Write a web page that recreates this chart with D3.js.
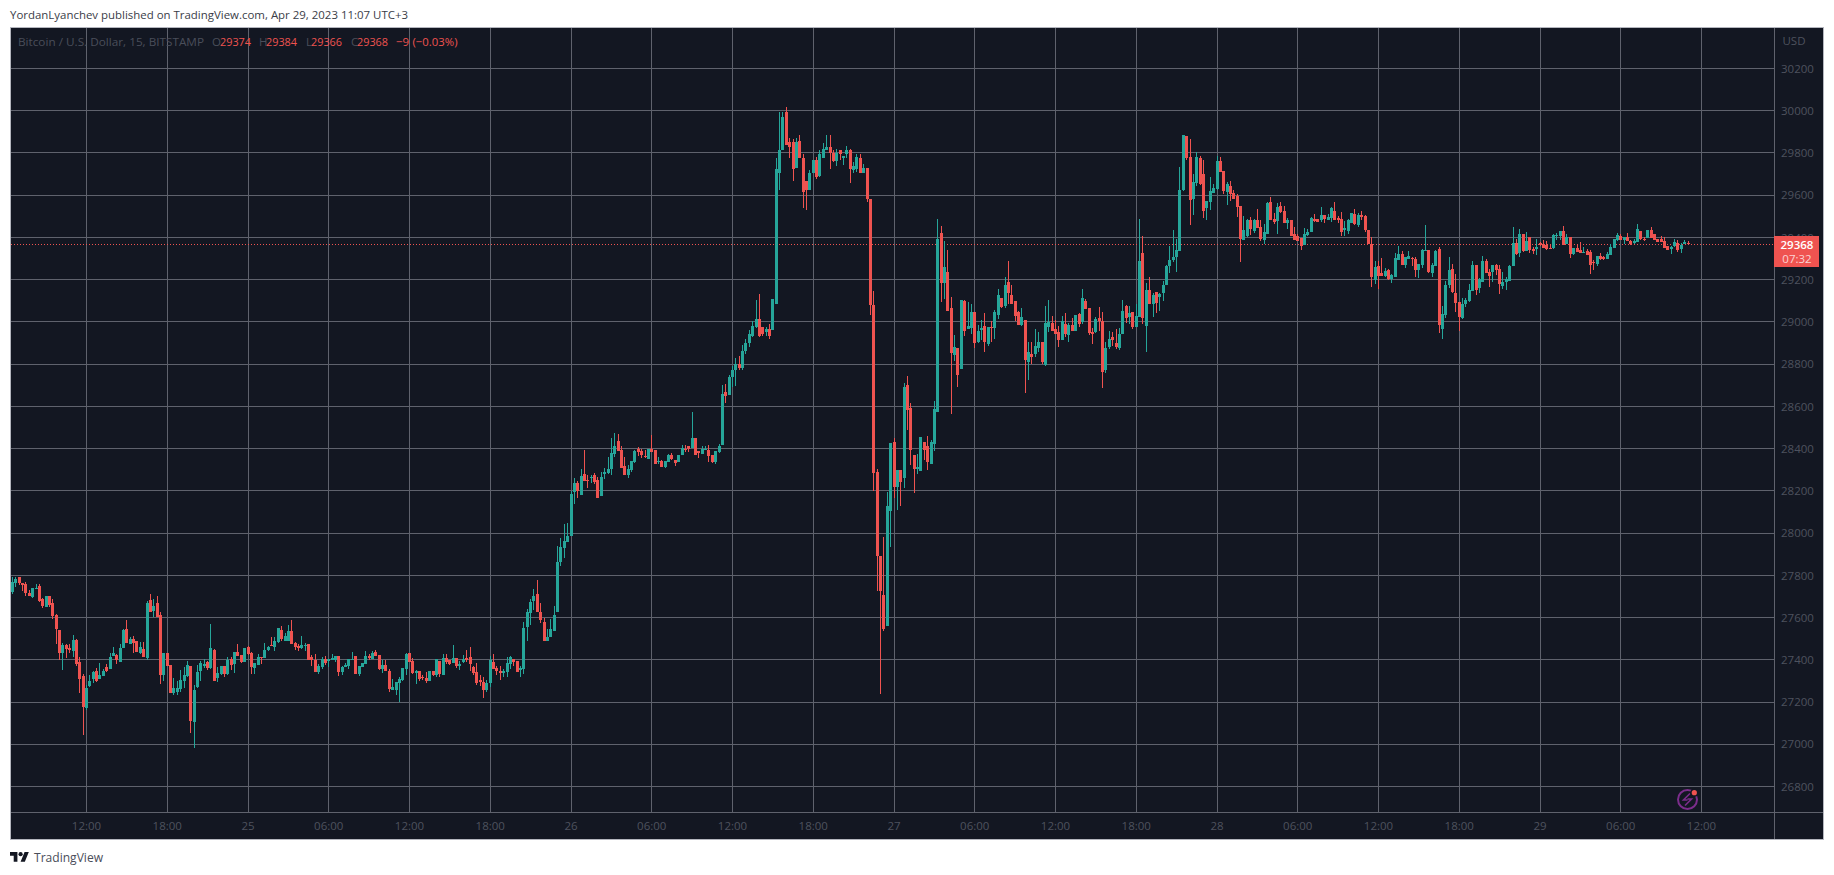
<!DOCTYPE html>
<html>
<head>
<meta charset="utf-8">
<title>BTCUSD 15</title>
<script src="https://cdn.jsdelivr.net/npm/d3@7"></script>
<style>
  html, body { margin: 0; padding: 0; background: #fff; }
  svg { display: block; font-family: "Open Sans", "Noto Sans", sans-serif; }
</style>
</head>
<body>
<svg id="chart" width="1834" height="875"></svg>
<script>
// open, high, low, close of each 15 minute candle, one list per session
const apr24 = [
[27723,27792,27713,27770],[27764,27792,27745,27783],[27792,27792,27754,27764],[27764,27764,27726,27754],[27759,27768,27704,27716],
[27716,27730,27702,27704],[27697,27740,27693,27740],[27735,27759,27735,27740],[27749,27759,27674,27678],[27688,27693,27645,27655],
[27650,27702,27650,27702],[27702,27702,27650,27659],[27669,27688,27593,27607],[27612,27617,27475,27546],[27541,27541,27399,27432],
[27432,27479,27351,27470],[27470,27475,27408,27451],[27456,27475,27432,27446],[27441,27517,27413,27493],[27493,27498,27370,27380],
[27389,27413,27242,27309],[27323,27332,27043,27176],[27171,27280,27162,27266],[27275,27328,27271,27299],[27309,27347,27290,27342],
[27347,27361,27294,27299],[27309,27384,27309,27328],[27323,27356,27323,27347],[27365,27380,27342,27347],[27356,27432,27356,27413],
[27418,27460,27418,27432],[27422,27427,27380,27399],[27389,27475,27389,27456],[27456,27546,27456,27541],[27546,27588,27479,27479],
[27475,27508,27475,27498],[27498,27512,27432,27479],[27489,27489,27437,27437],[27432,27484,27427,27460],[27451,27484,27413,27413],
[27408,27678,27399,27669],[27683,27712,27626,27626],[27631,27688,27603,27655],[27669,27702,27601,27601],[27612,27626,27285,27328],
[27328,27432,27299,27432],[27432,27432,27370,27370],[27375,27375,27242,27242],[27242,27313,27233,27266],[27247,27299,27233,27266],
[27261,27351,27247,27304],[27299,27365,27266,27328],[27323,27394,27318,27375],[27370,27370,27053,27110],[27105,27280,26982,27256],
[27271,27375,27266,27342],[27347,27394,27299,27384],[27370,27403,27361,27380],[27389,27394,27351,27361],[27361,27569,27356,27456],
[27446,27451,27299,27299],[27313,27365,27294,27337],[27332,27370,27328,27370],[27370,27370,27318,27332],[27332,27413,27328,27399],
[27403,27413,27351,27375],[27380,27437,27337,27437],[27437,27475,27418,27418],[27422,27422,27385,27389],[27389,27456,27389,27456]
];
const apr25 = [
[27460,27465,27422,27427],[27432,27437,27332,27365],[27361,27384,27332,27384],[27375,27427,27375,27413],[27413,27413,27380,27408],
[27408,27479,27408,27446],[27446,27465,27441,27460],[27468,27508,27465,27465],[27460,27508,27441,27489],[27484,27550,27479,27550],
[27541,27560,27489,27498],[27489,27527,27489,27512],[27489,27565,27489,27536],[27536,27588,27475,27475],[27479,27484,27446,27460],
[27465,27475,27441,27456],[27456,27512,27451,27470],[27465,27479,27441,27470],[27475,27475,27399,27399],[27413,27422,27370,27399],
[27399,27427,27342,27342],[27342,27380,27332,27370],[27365,27413,27356,27403],[27403,27418,27375,27384],[27394,27403,27365,27403],
[27399,27427,27399,27408],[27399,27418,27389,27418],[27418,27418,27323,27342],[27342,27370,27328,27365],[27365,27384,27365,27375],
[27370,27403,27356,27403],[27399,27437,27399,27403],[27418,27418,27332,27332],[27332,27370,27323,27370],[27365,27384,27365,27384],
[27380,27441,27380,27418],[27418,27427,27399,27408],[27403,27441,27403,27432],[27437,27446,27418,27418],[27422,27422,27351,27356],
[27356,27399,27337,27375],[27375,27399,27347,27347],[27347,27356,27247,27261],[27256,27309,27256,27271],[27256,27294,27233,27294],
[27290,27318,27198,27309],[27304,27361,27299,27361],[27356,27432,27328,27427],[27432,27432,27389,27389],[27394,27408,27332,27337],
[27337,27351,27285,27347],[27347,27347,27299,27309],[27318,27328,27304,27313],[27313,27342,27290,27299],[27299,27347,27299,27347],
[27347,27347,27323,27328],[27328,27403,27318,27403],[27394,27394,27318,27332],[27328,27427,27328,27408],[27408,27427,27380,27389],
[27399,27399,27375,27380],[27384,27470,27384,27408],[27408,27408,27361,27370],[27370,27394,27351,27380],[27389,27422,27384,27403],
[27408,27446,27389,27399],[27413,27460,27347,27380],[27365,27370,27328,27337],[27342,27384,27280,27290],[27304,27328,27275,27294],
[27294,27318,27219,27256],[27256,27304,27247,27290],[27290,27418,27271,27399],[27389,27427,27356,27356],[27361,27370,27328,27347],
[27347,27370,27304,27337],[27337,27356,27318,27347],[27342,27413,27318,27384],[27380,27418,27356,27413],[27403,27403,27370,27389],
[27394,27394,27342,27342],[27351,27370,27318,27361],[27356,27579,27332,27550],[27555,27640,27489,27626],[27621,27688,27565,27674],
[27678,27735,27636,27702],[27712,27778,27626,27626],[27626,27669,27574,27588],[27579,27598,27489,27489],[27489,27546,27489,27508],
[27508,27593,27508,27546],[27536,27655,27536,27612],[27626,27938,27626,27863],[27862,27976,27843,27933],[27929,28042,27881,27962],
[27957,28047,27957,27986]
];
const apr26 = [
[27986,28199,27986,28185],[28194,28260,28137,28237],[28237,28246,28166,28199],[28180,28303,28180,28270],[28279,28393,28246,28246],
[28251,28275,28213,28246],[28260,28275,28237,28265],[28275,28284,28232,28242],[28251,28265,28166,28166],[28175,28289,28175,28265],
[28279,28308,28256,28289],[28284,28360,28279,28303],[28303,28450,28275,28379],[28374,28474,28360,28412],[28436,28469,28388,28388],
[28393,28412,28308,28308],[28317,28360,28275,28275],[28275,28322,28260,28303],[28298,28341,28289,28341],[28336,28393,28332,28388],
[28398,28407,28365,28384],[28388,28398,28355,28370],[28365,28393,28355,28360],[28351,28398,28351,28398],[28398,28464,28384,28384],
[28393,28393,28327,28327],[28336,28360,28327,28341],[28341,28346,28313,28313],[28313,28341,28308,28341],[28336,28374,28336,28370],
[28370,28379,28346,28351],[28346,28346,28317,28332],[28336,28370,28336,28370],[28370,28417,28370,28403],[28398,28417,28384,28393],
[28412,28412,28384,28398],[28403,28573,28403,28450],[28450,28450,28370,28370],[28388,28388,28355,28379],[28374,28412,28374,28398],
[28393,28412,28393,28398],[28393,28417,28336,28365],[28370,28370,28332,28336],[28336,28388,28327,28388],[28384,28422,28379,28412],
[28417,28700,28417,28659],[28668,28706,28616,28649],[28654,28750,28654,28740],[28740,28790,28692,28770],[28770,28830,28697,28800],
[28800,28840,28770,28780],[28780,28890,28770,28860],[28860,28920,28850,28900],[28900,28960,28880,28945],[28935,29006,28927,28982],
[28977,29105,28973,29015],[29015,29132,28927,28935],[28974,28977,28935,28943],[28950,28977,28935,28968],[28968,28992,28919,28935],
[28963,29110,28963,29110],[29086,29774,29086,29726],[29703,29996,29627,29812],[29812,29996,29812,29968],[29996,30020,29840,29840],
[29854,29873,29778,29826],[29850,29868,29669,29726],[29731,29873,29731,29850],[29859,29883,29774,29778],[29778,29797,29541,29617],
[29665,29669,29532,29627],[29627,29717,29627,29707],[29707,29769,29703,29769],[29769,29783,29679,29688],[29693,29816,29688,29793],
[29774,29845,29774,29821],[29816,29887,29816,29826],[29826,29887,29726,29802],[29802,29816,29755,29764],[29764,29821,29740,29802],
[29812,29816,29769,29793],[29778,29788,29745,29788],[29797,29835,29778,29816],[29816,29821,29660,29722],[29717,29759,29707,29740],
[29726,29797,29712,29783],[29778,29793,29707,29707],[29707,29750,29707,29731],[29731,29731,29570,29584],[29584,29584,29034,29082],
[29079,29146,28198,28283],[28288,28302,27724,27890],[27890,27890,27240,27728],[27709,27980,27534,27544],[27558,28193,27558,28127],
[28103,28425,27932,28425]
];
const apr27 = [
[28430,28449,28164,28217],[28217,28297,28108,28297],[28297,28297,28127,28240],[28259,28710,28212,28691],[28700,28743,28487,28582],
[28591,28615,28321,28392],[28368,28368,28188,28302],[28302,28373,28278,28311],[28292,28454,28292,28454],[28430,28430,28345,28392],
[28411,28458,28297,28335],[28326,28439,28326,28430],[28420,28624,28387,28586],[28572,29487,28572,29392],[29421,29454,29094,29184],
[29184,29383,29108,29259],[29236,29340,29051,29051],[29065,29117,28563,28852],[28842,28937,28814,28880],[28875,28875,28691,28747],
[28776,29103,28776,29103],[29098,29103,28932,28956],[28966,29094,28966,28980],[28970,29084,28942,29046],[29046,29046,28875,28899],
[28904,28985,28899,28956],[28961,29008,28913,28970],[28980,29041,28857,28904],[28894,28975,28885,28975],[28975,29003,28904,28970],
[28970,29056,28918,29046],[29032,29155,29013,29127],[29112,29112,29065,29070],[29075,29212,29065,29174],[29188,29288,29084,29136],
[29127,29174,29084,29084],[29098,29098,29003,29027],[29046,29051,28985,28985],[28985,29065,28980,29022],[29008,29008,28662,28819],
[28809,28904,28724,28857],[28847,28904,28800,28833],[28847,28966,28833,28885],[28875,28951,28857,28904],[28904,28904,28800,28809],
[28795,29075,28790,28994],[28975,29103,28951,28999],[28994,29027,28956,28956],[28966,29008,28942,28942],[28951,28980,28880,28913],
[28913,29027,28913,29003],[28989,29041,28928,28942],[28937,28994,28904,28985],[28985,29018,28956,28956],[28956,29032,28956,29032],
[29037,29041,28975,28989],[28999,29155,28989,29112],[29098,29108,29060,29060],[29065,29065,28937,28947],[28951,28970,28894,28942],
[28951,29022,28947,29013],[29018,29070,28956,29003],[29003,29046,28686,28762],[28771,28904,28757,28875],[28880,28956,28871,28918],
[28928,28951,28885,28913],[28899,28966,28871,28880],[28875,28970,28866,28942],[28942,29103,28942,29051],[29075,29079,28994,29018],
[29022,29075,28989,29041],[29046,29046,28966,28975],[28975,29084,28975,29027],[29022,29487,29022,29288],[29326,29406,28989,29018],
[28980,29184,28857,29150],[29150,29212,29084,29084],[29086,29138,29024,29128],[29142,29142,29043,29090],[29119,29138,29052,29133],
[29138,29195,29100,29176],[29176,29270,29176,29266],[29266,29360,29233,29294],[29294,29436,29285,29308],[29308,29394,29237,29342],
[29337,29735,29337,29626],[29626,29887,29621,29887],[29882,29882,29768,29778],[29782,29868,29460,29579],[29583,29702,29507,29664],
[29659,29806,29645,29782],[29778,29787,29650,29654],[29702,29768,29493,29526],[29541,29574,29484,29574],[29569,29688,29531,29621],
[29612,29654,29612,29635]
];
const apr28 = [
[29631,29787,29626,29763],[29763,29782,29711,29711],[29716,29716,29607,29621],[29616,29664,29555,29654],[29645,29669,29574,29607],
[29612,29626,29583,29583],[29597,29607,29498,29545],[29550,29550,29285,29394],[29389,29503,29389,29436],[29408,29488,29403,29484],
[29484,29498,29413,29441],[29432,29488,29422,29484],[29484,29536,29446,29446],[29451,29484,29384,29394],[29389,29465,29370,29427],
[29417,29569,29417,29564],[29569,29593,29484,29484],[29488,29517,29465,29474],[29479,29564,29417,29545],[29550,29569,29517,29522],
[29526,29550,29470,29470],[29470,29493,29441,29484],[29484,29484,29408,29408],[29417,29451,29389,29389],[29408,29417,29384,29384],
[29398,29398,29341,29360],[29365,29446,29365,29417],[29413,29441,29408,29427],[29427,29498,29427,29493],[29488,29512,29474,29479],
[29488,29488,29474,29474],[29484,29545,29474,29507],[29507,29507,29470,29488],[29484,29512,29484,29498],[29493,29545,29474,29541],
[29526,29569,29484,29484],[29493,29503,29470,29484],[29488,29522,29408,29427],[29436,29479,29408,29446],[29432,29488,29417,29484],
[29470,29517,29470,29517],[29512,29536,29460,29465],[29460,29517,29451,29507],[29507,29526,29484,29498],[29503,29507,29427,29436],
[29436,29436,29370,29370],[29370,29403,29166,29214],[29199,29289,29180,29261],[29266,29289,29157,29218],[29233,29304,29218,29218],
[29218,29256,29214,29242],[29247,29251,29199,29204],[29204,29228,29185,29223],[29214,29327,29214,29304],[29294,29360,29294,29323],
[29323,29337,29270,29270],[29270,29308,29256,29308],[29299,29337,29299,29313],[29304,29308,29266,29299],[29299,29308,29214,29247],
[29247,29275,29209,29275],[29270,29346,29256,29341],[29337,29460,29337,29341],[29341,29341,29233,29237],[29233,29280,29214,29270],
[29266,29341,29266,29337],[29346,29356,28948,28986],[28967,29076,28920,29038],[29033,29195,29019,29176],[29176,29308,29161,29247],
[29251,29275,29138,29142],[29138,29228,29048,29090],[29095,29095,28958,29024],[29019,29114,29014,29086],[29086,29114,29071,29104],
[29100,29180,29095,29152],[29146,29288,29146,29269],[29269,29269,29127,29151],[29160,29208,29137,29203],[29189,29312,29189,29288],
[29288,29298,29232,29232],[29236,29251,29165,29217],[29236,29269,29189,29269],[29269,29274,29222,29246],[29251,29269,29132,29179],
[29170,29236,29156,29189],[29189,29213,29151,29203],[29194,29269,29194,29265],[29265,29450,29265,29374],[29374,29393,29317,29322],
[29326,29440,29307,29416],[29416,29416,29331,29336],[29336,29426,29336,29383],[29401,29401,29326,29341],[29345,29353,29322,29336],
[29345,29391,29317,29355]
];
const apr29 = [
[29374,29379,29360,29364],[29369,29388,29350,29350],[29364,29383,29341,29345],[29350,29369,29345,29345],[29350,29416,29345,29412],
[29407,29421,29388,29412],[29407,29431,29388,29431],[29431,29454,29364,29364],[29369,29416,29369,29401],[29401,29401,29303,29322],
[29322,29350,29317,29350],[29350,29369,29331,29331],[29341,29379,29326,29326],[29326,29355,29326,29330],[29336,29345,29317,29317],
[29331,29341,29227,29269],[29284,29293,29246,29279],[29274,29312,29265,29312],[29312,29326,29293,29298],[29307,29312,29293,29298],
[29298,29331,29298,29322],[29317,29369,29317,29355],[29350,29393,29350,29393],[29388,29421,29383,29412],[29407,29416,29388,29388],
[29388,29401,29369,29401],[29401,29421,29383,29383],[29383,29388,29364,29369],[29374,29393,29369,29383],[29379,29464,29379,29440],
[29431,29431,29388,29393],[29393,29401,29383,29388],[29397,29435,29397,29435],[29435,29450,29397,29397],[29416,29416,29388,29388],
[29393,29393,29379,29379],[29393,29407,29379,29379],[29383,29401,29350,29350],[29360,29360,29341,29341],[29345,29360,29322,29355],
[29360,29391,29355,29379],[29374,29388,29331,29341],[29345,29374,29326,29364],[29369,29388,29369,29379],[29374,29384,29366,29368]
];

const priceTicks = [26800, 27000, 27200, 27400, 27600, 27800, 28000, 28200, 28400, 28600, 28800, 29000, 29200, 29400, 29600, 29800, 30000, 30200];
const timeLabels = ['12:00', '18:00', '25', '06:00', '12:00', '18:00', '26', '06:00', '12:00', '18:00', '27', '06:00', '12:00', '18:00', '28', '06:00', '12:00', '18:00', '29', '06:00', '12:00'];
const publishedLine = 'YordanLyanchev published on TradingView.com, Apr 29, 2023 11:07 UTC+3';
const symbolName = 'Bitcoin / U.S. Dollar, 15, BITSTAMP';
const ohlcNames = ['O', 'H', 'L', 'C'];
const ohlcValues = ['29374', '29384', '29366', '29368'];
const lastPrice = 29368;
const countdown = '07:32';

const candles = [...apr24, ...apr25, ...apr26, ...apr27, ...apr28, ...apr29]
    .map(d => ({ open: d[0], high: d[1], low: d[2], close: d[3] }));

const GREEN = '#26a69a', RED = '#ef5350', BG = '#131722', GRID = '#5f626d', AXIS_TEXT = '#4e525e';
const left = 10, top_ = 27, plotRight = 1774, plotBottom = 812, right = 1823, bottom = 839;
const firstLabelBar = 22, barsPerLabel = 24; // a time label every 6 hours
const FONT = 11.5;

const svg = d3.select('#chart');

const x = d3.scaleLinear()
    .domain([firstLabelBar, firstLabelBar + barsPerLabel * (timeLabels.length - 1)])
    .range([86.5, 1701.5]);
const y = d3.scaleLinear().domain([26800, 30200]).range([786.5, 68.5]);

// panel and frame
svg.append('rect')
    .attr('x', left + 0.5).attr('y', top_ + 0.5)
    .attr('width', right - left).attr('height', bottom - top_)
    .attr('fill', BG).attr('stroke', '#b4b6be').attr('stroke-width', 1);

const grid = svg.append('g').attr('shape-rendering', 'crispEdges').attr('stroke', GRID);

grid.selectAll('.h').data(priceTicks).enter().append('line')
    .attr('x1', left + 1).attr('x2', plotRight)
    .attr('y1', d => y(d)).attr('y2', d => y(d));

grid.selectAll('.v').data(timeLabels).enter().append('line')
    .attr('x1', (d, i) => x(firstLabelBar + i * barsPerLabel)).attr('x2', (d, i) => x(firstLabelBar + i * barsPerLabel))
    .attr('y1', top_ + 1).attr('y2', plotBottom);

grid.append('line').attr('x1', plotRight + 0.5).attr('x2', plotRight + 0.5).attr('y1', top_ + 1).attr('y2', bottom);
grid.append('line').attr('x1', left + 1).attr('x2', right).attr('y1', plotBottom + 0.5).attr('y2', plotBottom + 0.5);

// legend sits under the marks, the grid shows through it
const legend = svg.append('g').attr('font-size', FONT);
legend.append('text').attr('x', 18).attr('y', 46).attr('fill', '#4a4e5a')
    .attr('textLength', 186).attr('lengthAdjust', 'spacingAndGlyphs').text(symbolName);
const legendX = [212, 259, 306, 351];
const legendValueX = [220, 266, 311, 357];
ohlcNames.forEach((n, i) => {
    legend.append('text').attr('x', legendX[i]).attr('y', 46).attr('fill', '#4a4e5a').text(n);
    legend.append('text').attr('x', legendValueX[i]).attr('y', 46).attr('fill', RED)
        .attr('textLength', 31).attr('lengthAdjust', 'spacingAndGlyphs').text(ohlcValues[i]);
});
legend.append('text').attr('x', 396).attr('y', 46).attr('fill', RED).text('\u22129');
legend.append('text').attr('x', 412.5).attr('y', 46).attr('fill', RED)
    .attr('textLength', 45).attr('lengthAdjust', 'spacingAndGlyphs').text('(\u22120.03%)');

// price line
svg.append('line')
    .attr('x1', left + 1).attr('x2', plotRight)
    .attr('y1', Math.floor(y(lastPrice)) + 0.5).attr('y2', Math.floor(y(lastPrice)) + 0.5)
    .attr('stroke', RED).attr('stroke-dasharray', '1 2').attr('shape-rendering', 'crispEdges');

// candles
const marks = svg.append('g').attr('shape-rendering', 'crispEdges');
const candle = marks.selectAll('g').data(candles).enter().append('g')
    .attr('fill', d => d.close >= d.open ? GREEN : RED);

candle.append('rect')
    .attr('x', (d, i) => Math.floor(x(i)))
    .attr('width', 1)
    .attr('y', d => Math.round(y(d.high)))
    .attr('height', d => Math.max(1, Math.round(y(d.low)) - Math.round(y(d.high))));

candle.append('rect')
    .attr('x', (d, i) => Math.floor(x(i)) - 1)
    .attr('width', 3)
    .attr('y', d => Math.round(y(Math.max(d.open, d.close))))
    .attr('height', d => Math.max(1, Math.round(y(Math.min(d.open, d.close))) - Math.round(y(Math.max(d.open, d.close)))));

// price axis
const priceAxis = svg.append('g').attr('font-size', FONT).attr('fill', AXIS_TEXT).attr('text-anchor', 'middle');
priceAxis.selectAll('text').data(priceTicks).enter().append('text')
    .attr('x', 1797.5).attr('y', d => y(d) + 4.2).text(d => d);
priceAxis.append('text').attr('x', 1794).attr('y', 45).text('USD');

// last price tag
const tag = svg.append('g').attr('text-anchor', 'middle').attr('font-size', FONT);
tag.append('rect').attr('x', plotRight).attr('y', 236).attr('width', 45).attr('height', 31).attr('fill', RED);
tag.append('text').attr('x', 1797).attr('y', Math.floor(y(lastPrice)) + 5).attr('fill', '#fff').attr('font-weight', 600).text(lastPrice);
tag.append('text').attr('x', 1797).attr('y', 262.5).attr('fill', '#fff').attr('fill-opacity', 0.75).text(countdown);

// time axis
svg.append('g').attr('font-size', FONT).attr('fill', AXIS_TEXT).attr('text-anchor', 'middle')
    .selectAll('text').data(timeLabels).enter().append('text')
    .attr('x', (d, i) => x(firstLabelBar + i * barsPerLabel))
    .attr('y', 830)
    .text(d => d);

// lightning badge
const badge = svg.append('g').attr('transform', 'translate(1687.5,799.5)');
badge.append('circle').attr('r', 9.5).attr('fill', 'none').attr('stroke', '#7b2d8b').attr('stroke-width', 2);
badge.append('path').attr('d', 'M2.5,-6 L-4,0.5 L0,0.5 M-2.5,6 L4,-0.5 L0,-0.5').attr('fill', 'none').attr('stroke', '#7b2d8b').attr('stroke-width', 1.6);
badge.append('circle').attr('cx', 6.8).attr('cy', -6.8).attr('r', 4).attr('fill', BG);
badge.append('circle').attr('cx', 6.8).attr('cy', -6.8).attr('r', 2.6).attr('fill', RED);

// page texts outside the panel
svg.append('text').attr('x', 10).attr('y', 19).attr('font-size', FONT).attr('fill', '#3a3d48')
    .attr('textLength', 398).attr('lengthAdjust', 'spacingAndGlyphs').text(publishedLine);

const logo = svg.append('g').attr('transform', 'translate(10,850) scale(0.53)').attr('fill', '#131722');
logo.append('path').attr('d', 'M14 22H7V11H0V4h14v18zM28 22h-8l7.5-18h8L28 22z');
logo.append('circle').attr('cx', 20).attr('cy', 8).attr('r', 4);
svg.append('text').attr('x', 34).attr('y', 862).attr('font-size', 13).attr('fill', '#4a4e5a')
    .attr('textLength', 69).attr('lengthAdjust', 'spacingAndGlyphs').text('TradingView');
</script>
</body>
</html>
